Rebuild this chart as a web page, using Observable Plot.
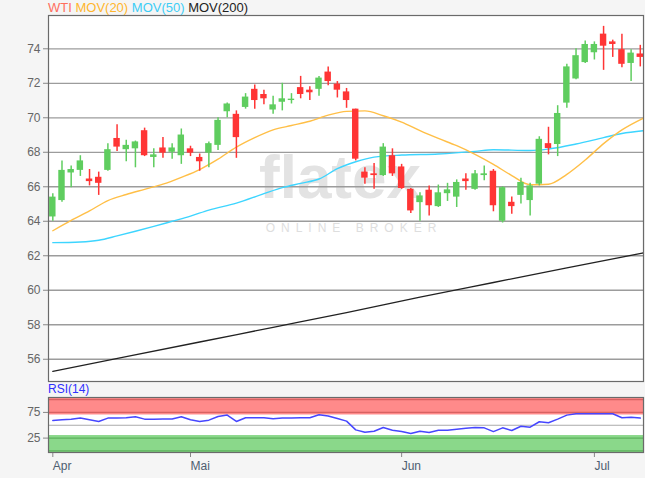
<!DOCTYPE html>
<html><head><meta charset="utf-8">
<script src="https://cdn.jsdelivr.net/npm/d3@7"></script>
<script src="https://cdn.jsdelivr.net/npm/@observablehq/plot@0.6"></script>
<style>
body{margin:0;background:#f5f5f5;font-family:"Liberation Sans",Arial,sans-serif;}
#wrap{position:relative;width:645px;height:478px;overflow:hidden}
#legend{position:absolute;left:48px;top:1px;font-size:13px;line-height:14px;white-space:nowrap;z-index:2}
#main{position:absolute;left:0;top:0}
#rsiLabel{position:absolute;left:48px;top:383px;font-size:12px;line-height:13px;color:#3030ff;z-index:2}
#rsi{position:absolute;left:0;top:385px}
</style></head>
<body>
<div id="wrap">
<div id="main"></div>
<div id="legend"><span style="color:#ff6f5e">WTI</span> <span style="color:#ffb52e">MOV(20)</span> <span style="color:#3dcdf5">MOV(50)</span> <span style="color:#222">MOV(200)</span></div>
<div id="rsi"></div>
<div id="rsiLabel">RSI(14)</div>
</div>
<script>
// Daily candles, 10 Apr 2018 – 9 Jul 2018 (index = trading day)
const open  = [64.25,65.2,66.8,66.95,66.45,66.55,66.95,68.8,68.15,68.2,69.25,67.7,68.25,68.0,67.8,68.2,67.7,67.95,68.4,70.35,70.2,70.6,71.65,71.35,70.45,70.9,71.0,71.75,71.6,71.65,72.65,71.95,71.5,70.5,66.85,66.75,66.65,67.8,67.15,65.85,65.08,65.8,64.85,65.6,65.4,66.45,65.85,66.65,66.9,64.0,65.1,65.5,65.2,66.15,68.5,68.45,70.85,72.25,73.2,73.77,74.85,74.4,73.95,73.15,73.7];
const high  = [65.6,67.5,67.2,67.8,67.0,66.85,68.5,69.6,68.7,68.65,69.4,68.2,68.85,68.5,69.35,68.35,67.9,68.6,70.0,70.85,70.4,71.4,71.9,71.6,71.25,72.0,71.4,72.4,71.8,72.4,72.95,72.1,71.7,70.5,67.1,67.35,68.5,68.2,67.3,65.9,65.65,66.05,66.1,66.2,66.4,66.75,66.95,67.2,67.0,66.0,65.4,66.5,66.2,68.9,69.45,70.7,73.1,74.0,74.45,74.4,75.3,74.5,74.85,73.95,74.2];
const low   = [64.0,65.1,65.95,66.6,66.05,65.5,66.9,68.05,67.45,67.1,67.75,67.1,67.65,67.6,67.3,67.75,66.9,67.1,68.1,70.0,67.65,70.5,70.5,70.75,70.2,70.4,70.8,71.1,71.0,71.25,71.85,71.15,70.55,67.5,66.15,65.85,66.6,66.6,65.85,64.45,64.0,64.3,64.8,65.15,64.8,65.8,65.8,66.35,64.55,63.9,64.4,65.0,64.3,66.05,67.85,67.75,70.55,72.2,73.15,73.35,72.75,73.5,72.9,72.1,72.95];
const close = [65.4,66.95,67.0,67.5,66.3,66.2,68.15,68.3,68.4,68.6,67.8,67.85,67.95,68.25,69.0,67.95,67.45,68.5,69.85,70.8,68.85,71.2,71.0,71.1,70.75,71.1,71.08,71.35,71.45,72.3,72.1,71.6,71.0,67.6,66.5,66.65,68.3,66.75,65.9,64.6,65.47,64.9,65.65,65.82,66.25,66.3,66.75,66.75,64.9,65.95,64.85,66.25,66.05,68.75,68.22,70.25,72.95,73.6,74.25,74.25,74.15,74.25,73.1,73.75,73.5];

// Moving averages (trading-day index, value)
const ma20Idx = [0,2,4,6,8,10,12,14,16,18,20,22,24,26,28,30,32,34,36,38,40,42,44,46,48,50,52,54,56,58,60,62,64.3];
const ma20Val = [63.45,64.05,64.6,65.2,65.55,65.85,66.15,66.55,67.0,67.6,68.3,68.85,69.3,69.55,69.8,70.15,70.37,70.4,70.12,69.75,69.25,68.8,68.38,67.88,67.3,66.65,66.12,66.15,66.72,67.55,68.5,69.3,69.97];
const ma50Idx = [0,3,5,7,9,11,13,15,17,20,23,25,27,29,31,33,35,38,42,46,48,52,54,57,60,62,64.3];
const ma50Val = [62.76,62.8,62.9,63.15,63.42,63.7,64.0,64.3,64.65,65.05,65.6,65.95,66.2,66.45,67.05,67.45,67.72,67.84,67.9,68.05,68.15,68.1,68.19,68.48,68.85,69.09,69.25];
const ma200Idx = [0,8,16,24,32,40,48,56,64.3];
const ma200Val = [55.3,56.15,57.0,57.85,58.7,59.6,60.45,61.3,62.16];

// RSI(14) per trading day
const rsi = [59.3,60.5,61.5,63.9,60.7,57.4,63.9,64.2,64.6,66.6,61.9,61.9,62,62,66.6,60.7,57.4,59.9,67,69.8,57.4,64.6,64.6,64.6,62.6,63.9,64,64.4,64.6,70.5,68,63,58,41,36.4,38.3,45.6,40.3,37.7,33.8,38.3,35.8,40.3,40.3,42.3,44.2,45.6,45,37.7,45,39.7,48.1,46.2,56.8,54.8,61.9,69.7,72.5,72.5,72.5,72.5,72.5,64.6,65.8,63.9];

const yTicks = [56,58,60,62,64,66,68,70,72,74];
const rsiTicks = [25,75];
const monthTicks = [0,15,38,59];
const monthLabels = ["Apr","Mai","Jun","Jul"];

const candles = open.map((o,i)=>({i, o, h:high[i], l:low[i], c:close[i], up: close[i] >= o}));
const pts = (xs, ys) => xs.map((x,k)=>({x, y:ys[k]}));
const rsiData = rsi.map((v,i)=>({i, v}));

const GREEN = "#5fcd5f", RED = "#ff3535";
const font = "Liberation Sans, Arial, sans-serif";
const xDomain = [-0.47, 64.35];

const main = Plot.plot({
  width:645, height:385, marginTop:15, marginBottom:4, marginLeft:48, marginRight:2,
  style:{background:"transparent", fontFamily:font, fontSize:"12px", color:"#666", overflow:"visible"},
  x:{domain:xDomain, axis:null},
  y:{domain:[54.71,75.93], label:null},
  marks:[
    Plot.frame({fill:"white", stroke:null}),
    Plot.text(["flatex"], {frameAnchor:"middle", dx:-6, dy:-20, fontSize:62, fontWeight:"bold", fill:"#e3e3e3"}),
    Plot.text(["ONLINE BROKER"], {frameAnchor:"middle", dx:8, dy:30, fontSize:12, fill:"#dedede", className:"wm"}),
    Plot.gridY(yTicks, {stroke:"#9c9c9c", strokeOpacity:1, strokeWidth:1.3}),
    Plot.axisY(yTicks, {tickSize:5, tickPadding:3, label:null, stroke:"#888", fill:"#666", fontSize:12}),
    Plot.line(pts(ma200Idx, ma200Val), {x:"x", y:"y", stroke:"#222", strokeWidth:1.3, curve:"monotone-x"}),
    Plot.line(pts(ma50Idx, ma50Val), {x:"x", y:"y", stroke:"#3dd5ff", strokeWidth:1.4, curve:"monotone-x"}),
    Plot.line(pts(ma20Idx, ma20Val), {x:"x", y:"y", stroke:"#ffbf47", strokeWidth:1.4, curve:"monotone-x"}),
    Plot.ruleX(candles, {x:"i", y1:"l", y2:"h", stroke:d=>d.up?GREEN:RED, strokeWidth:1.5}),
    Plot.rect(candles, {x1:d=>d.i-0.35, x2:d=>d.i+0.35, y1:"o", y2:d=>Math.abs(d.c-d.o)<0.08?(d.o+(d.up?0.08:-0.08)):d.c, fill:d=>d.up?GREEN:RED}),
    Plot.frame({stroke:"#6a6a6a", strokeWidth:1.2})
  ]
});
document.getElementById("main").append(main);
d3.select(main).selectAll(".wm text").attr("letter-spacing","6px");

const rsiPlot = Plot.plot({
  width:645, height:93, marginTop:12, marginBottom:26, marginLeft:48, marginRight:2,
  style:{background:"transparent", fontFamily:font, fontSize:"12px", color:"#666", overflow:"visible"},
  x:{domain:xDomain, label:null},
  y:{domain:[-3,104], label:null},
  marks:[
    Plot.frame({fill:"white", stroke:null}),
    Plot.rect([{a:70,b:104}], {y1:"a", y2:"b", fill:"#ff8a8a"}),
    Plot.rect([{a:-3,b:30}], {y1:"a", y2:"b", fill:"#8ad88a"}),
    Plot.ruleY([100,75], {stroke:"#d86262", strokeWidth:1.2}),
    Plot.ruleY([25,0], {stroke:"#5cb25c", strokeWidth:1.2}),
    Plot.ruleY([50], {stroke:"#aaa", strokeWidth:1.2}),
    Plot.axisY(rsiTicks, {tickSize:5, tickPadding:3, label:null, stroke:"#888", fill:"#666", fontSize:12}),
    Plot.axisX(monthTicks, {tickSize:5, tickPadding:4, label:null, textAnchor:"start", stroke:"#888", fill:"#4e5e70", fontSize:12, tickFormat:d=>monthLabels[monthTicks.indexOf(d)]}),
    Plot.line(rsiData, {x:"i", y:"v", stroke:"#4646ff", strokeWidth:1.5}),
    Plot.frame({stroke:"#6a6a6a", strokeWidth:1.2})
  ]
});
document.getElementById("rsi").append(rsiPlot);
</script>
</body></html>
